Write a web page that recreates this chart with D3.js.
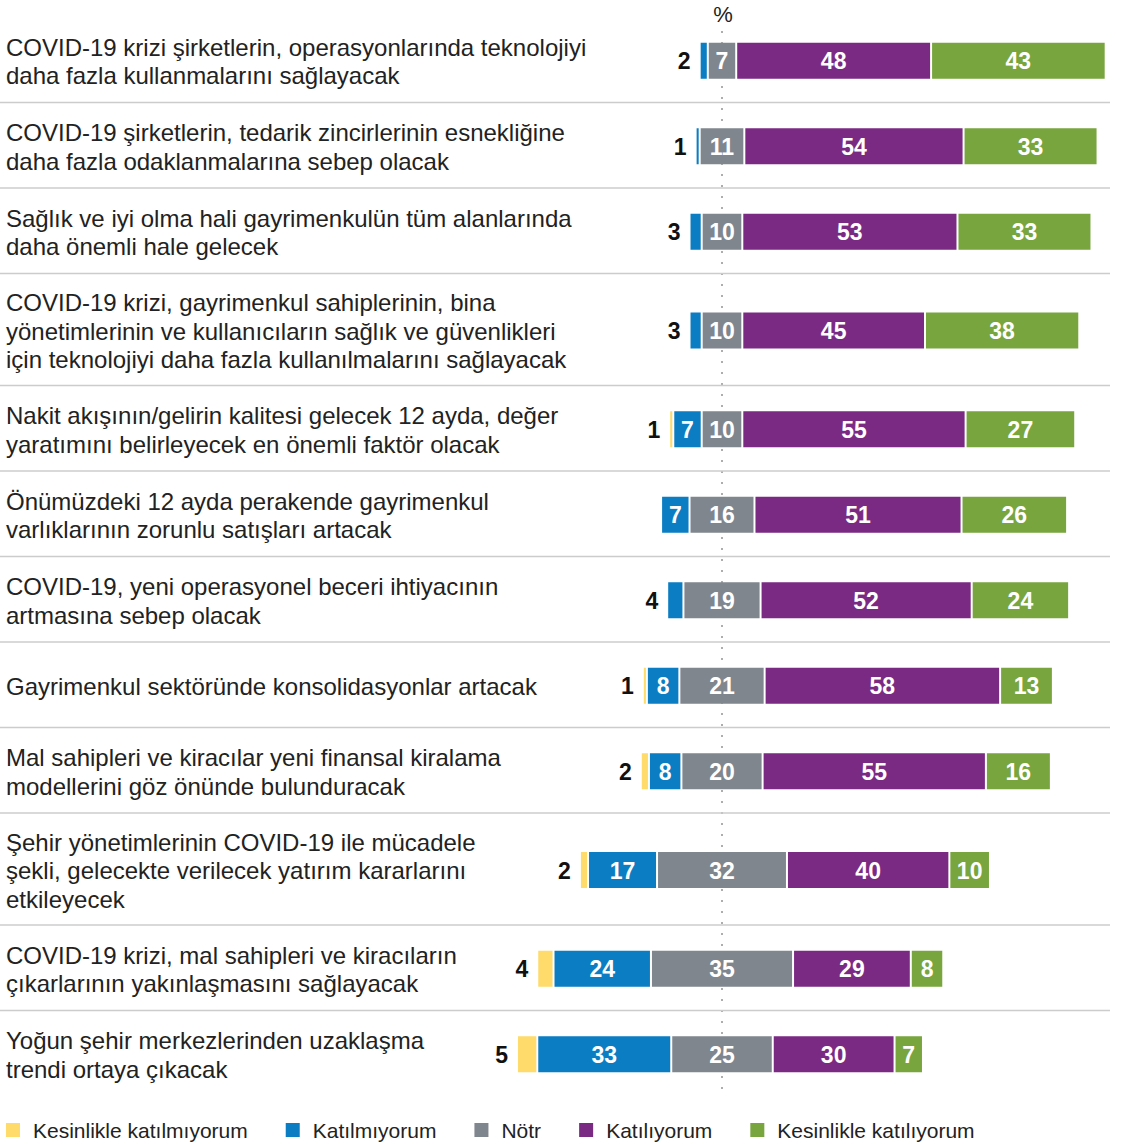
<!DOCTYPE html>
<html>
<head>
<meta charset="utf-8">
<script src="https://cdn.jsdelivr.net/npm/d3@7"></script>
<style>
  body { margin: 0; background: #fff; }
  svg text { font-family: "Liberation Sans", Arial, Helvetica, sans-serif; }
</style>
</head>
<body>
<svg id="chart" width="1123" height="1144"></svg>
<script>
// ifadeler (satır kırılımları referanstaki gibi)
const statements = [
  ["COVID-19 krizi şirketlerin, operasyonlarında teknolojiyi", "daha fazla kullanmalarını sağlayacak"],
  ["COVID-19 şirketlerin, tedarik zincirlerinin esnekliğine", "daha fazla odaklanmalarına sebep olacak"],
  ["Sağlık ve iyi olma hali gayrimenkulün tüm alanlarında", "daha önemli hale gelecek"],
  ["COVID-19 krizi, gayrimenkul sahiplerinin, bina", "yönetimlerinin ve kullanıcıların sağlık ve güvenlikleri", "için teknolojiyi daha fazla kullanılmalarını sağlayacak"],
  ["Nakit akışının/gelirin kalitesi gelecek 12 ayda, değer", "yaratımını belirleyecek en önemli faktör olacak"],
  ["Önümüzdeki 12 ayda perakende gayrimenkul", "varlıklarının zorunlu satışları artacak"],
  ["COVID-19, yeni operasyonel beceri ihtiyacının", "artmasına sebep olacak"],
  ["Gayrimenkul sektöründe konsolidasyonlar artacak"],
  ["Mal sahipleri ve kiracılar yeni finansal kiralama", "modellerini göz önünde bulunduracak"],
  ["Şehir yönetimlerinin COVID-19 ile mücadele", "şekli, gelecekte verilecek yatırım kararlarını", "etkileyecek"],
  ["COVID-19 krizi, mal sahipleri ve kiracıların", "çıkarlarının yakınlaşmasını sağlayacak"],
  ["Yoğun şehir merkezlerinden uzaklaşma", "trendi ortaya çıkacak"]
];

// seriler (%)
const strongDisagree = [0, 0, 0, 0, 1, 0, 0, 1, 2, 2, 4, 5];
const disagree       = [2, 1, 3, 3, 7, 7, 4, 8, 8, 17, 24, 33];
const neutral        = [7, 11, 10, 10, 10, 16, 19, 21, 20, 32, 35, 25];
const agree          = [48, 54, 53, 45, 55, 51, 52, 58, 55, 40, 29, 30];
const strongAgree    = [43, 33, 33, 38, 27, 26, 24, 13, 16, 10, 8, 7];

const seriesNames = ["Kesinlikle katılmıyorum", "Katılmıyorum", "Nötr", "Katılıyorum", "Kesinlikle katılıyorum"];
const seriesColors = ["#fedb6a", "#0b7dc3", "#7f868d", "#7b2a84", "#78a53e"];

const svg = d3.select("#chart");

// yatay ölçek: nötrün ortası = 0
const x = d3.scaleLinear().domain([-60, 60]).range([722 - 60 * 4.06, 722 + 60 * 4.06]);

// satır yerleşimi (satır sayısına göre yükseklik)
let yPos = 17;
const rows = statements.map(function(lines, i) {
  const h = lines.length === 3 ? 112 : 85.5;
  const r = { i: i, lines: lines, top: yPos, bottom: yPos + h, mid: yPos + h / 2 + 1 };
  yPos += h;
  return r;
});

// orta noktalı çizgi
svg.append("line")
  .attr("x1", x(0)).attr("x2", x(0))
  .attr("y1", 31).attr("y2", rows[rows.length - 1].bottom)
  .attr("stroke", "#777")
  .attr("stroke-width", 1.2)
  .attr("stroke-dasharray", "2,9");

svg.append("text")
  .attr("x", x(0) + 1).attr("y", 22)
  .attr("text-anchor", "middle")
  .attr("font-size", 22)
  .attr("fill", "#222")
  .text("%");

// ayırıcı çizgiler
svg.selectAll(".sep")
  .data(rows.slice(0, -1))
  .join("line")
  .attr("class", "sep")
  .attr("x1", 0).attr("x2", 1110)
  .attr("y1", d => d.bottom).attr("y2", d => d.bottom)
  .attr("stroke", "#cccccc")
  .attr("stroke-width", 1.5);

// ifade metinleri
const lineH = 28.5;
rows.forEach(function(r) {
  const t = svg.append("text")
    .attr("font-size", 24)
    .attr("fill", "#222");
  r.lines.forEach(function(l, k) {
    t.append("tspan")
      .attr("x", 6)
      .attr("y", r.mid + (k - (r.lines.length - 1) / 2) * lineH + 9)
      .text(l);
  });
});

// çubuklar
const barH = 36;
rows.forEach(function(r) {
  const i = r.i;
  const vals = [strongDisagree[i], disagree[i], neutral[i], agree[i], strongAgree[i]];
  let start = -(vals[0] + vals[1] + vals[2] / 2);
  let first = true;
  const g = svg.append("g");
  vals.forEach(function(v, s) {
    if (v <= 0) return;
    const x0 = x(start), x1 = x(start + v);
    g.append("rect")
      .attr("x", x0 + 1)
      .attr("y", r.mid - barH / 2)
      .attr("width", Math.max(1, x1 - x0 - 2))
      .attr("height", barH)
      .attr("fill", seriesColors[s]);
    if (first && v <= 5) {
      g.append("text")
        .attr("x", x0 - 9)
        .attr("y", r.mid + 8.5)
        .attr("text-anchor", "end")
        .attr("font-size", 23)
        .attr("font-weight", "bold")
        .attr("fill", "#111")
        .text(v);
    } else {
      g.append("text")
        .attr("x", (x0 + x1) / 2)
        .attr("y", r.mid + 8.5)
        .attr("text-anchor", "middle")
        .attr("font-size", 23)
        .attr("font-weight", "bold")
        .attr("fill", "#fff")
        .text(v);
    }
    first = false;
    start += v;
  });
});

// lejant
const legend = svg.append("g").attr("transform", "translate(6,1130)");
let lx = 0;
seriesNames.forEach(function(name, s) {
  legend.append("rect")
    .attr("x", lx).attr("y", -7)
    .attr("width", 14).attr("height", 14)
    .attr("fill", seriesColors[s]);
  const t = legend.append("text")
    .attr("x", lx + 27).attr("y", 7.5)
    .attr("font-size", 21)
    .attr("fill", "#222")
    .text(name);
  lx += 27 + t.node().getComputedTextLength() + 38;
});
</script>
</body>
</html>
